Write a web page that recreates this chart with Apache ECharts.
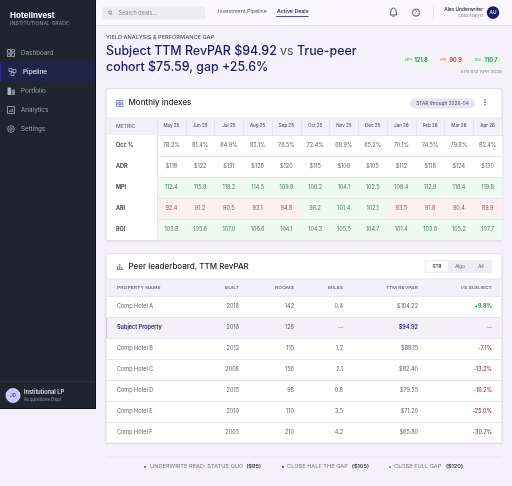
<!DOCTYPE html>
<html><head><meta charset="utf-8">
<style>html,body{margin:0;padding:0;background:#f4f1fa}#c{width:512px;height:486px}</style>
<script src="https://cdn.jsdelivr.net/npm/echarts@6/dist/echarts.min.js"></script>
</head><body><div id="c"></div>
<script>
const months = ['May 25','Jun 25','Jul 25','Aug 25','Sep 25','Oct 25','Nov 25','Dec 25','Jan 26','Feb 26','Mar 26','Apr 26'];
const metrics = ['Occ %','ADR','MPI','ARI','RGI'];
const occ = [78.2,81.4,84.9,82.1,76.5,72.4,68.9,65.2,70.1,74.5,79.8,82.4];
const adr = [118,122,131,128,120,115,109,105,112,118,124,130];
const mpi = [112.4,115.8,118.2,114.5,109.8,106.2,104.1,102.5,108.4,112.9,116.4,119.8];
const ari = [92.4,91.2,90.5,93.1,94.8,98.2,101.4,102.1,93.5,91.8,90.4,89.9];
const rgi = [103.8,105.6,107.0,106.6,104.1,104.3,105.5,104.7,101.4,103.6,105.2,107.7];
const peerNames = ['Comp Hotel A','Subject Property','Comp Hotel B','Comp Hotel C','Comp Hotel D','Comp Hotel E','Comp Hotel F'];
const peerBuilt = [2018,2016,2012,2008,2015,2010,2005];
const peerRooms = [142,128,115,156,98,110,210];
const peerMiles = ['0.4','--','1.2','2.1','0.8','3.5','4.2'];
const peerRevpar = [104.22,94.92,88.15,82.40,79.55,71.20,65.80];
const peerVs = ['+9.8%','--','-7.1%','-13.2%','-16.2%','-25.0%','-30.7%'];
const peerHeads = ['PROPERTY NAME','BUILT','ROOMS','MILES','TTM REVPAR','VS SUBJECT'];
const navItems = ['Dashboard','Pipeline','Portfolio','Analytics','Settings'];

const F = 'Inter, "Noto Sans", sans-serif';
const NAVY = '#1c1c6b';
const LINE = '#e4e1eb';
const colRight = [117,239,294,343,418,492];

function T(x,y,text,size,fill,o){o=o||{};return {type:'text',x:x,y:y,scaleX:o.sx||1,silent:true,z:o.z||0,style:{text:text,fontFamily:F,fontSize:size,fill:fill,fontWeight:o.w||400,align:o.a||'left',verticalAlign:'middle',rich:o.rich}};}
function R(x,y,w,h,fill,o){o=o||{};return {type:'rect',silent:true,z:o.z||0,shape:{x:x,y:y,width:w,height:h,r:o.r||0},style:{fill:fill,stroke:o.s||null,lineWidth:o.lw||0,shadowBlur:o.sb||0,shadowColor:o.sc||'transparent',shadowOffsetY:o.sy||0}};}
function B(x,y,w,h,st,o){o=o||{};return {type:'rect',silent:true,shape:{x:x,y:y,width:w,height:h,r:o.r||0},style:{fill:'transparent',stroke:st,lineWidth:o.lw||0.8}};}
function C(cx,cy,r,fill,st){return {type:'circle',silent:true,shape:{cx:cx,cy:cy,r:r},style:{fill:fill,stroke:st||null,lineWidth:st?0.8:0}};}
function L(x1,y1,x2,y2,st,lw){return {type:'line',silent:true,shape:{x1:x1,y1:y1,x2:x2,y2:y2},style:{stroke:st,lineWidth:lw||1}};}

const g = [];
// sidebar
g.push(R(0,0,96,409,'#0c0f14'));
g.push(R(0,0,95,408,'#1e2530'));
g.push(R(0,62,95,19.5,'#1e2449'));
g.push(R(0,62,1.2,19.5,'#2a2a8c'));
g.push(T(10,15.5,'HotelInvest',8,'#ffffff',{w:700}));
g.push(T(10,24,'INSTITUTIONAL GRADE',4.5,'#8f97a6',{sx:1.16}));
const navY=[53,72,91,110,129];
navItems.forEach((n,i)=>{
  const act=i===1, x=act?23:21, col=act?'#e3e5f2':'#98a0ae';
  g.push(T(x,navY[i],n,6.3,col,{w:act?500:400}));
  const ix=act?9:7.5, iy=navY[i]-3.5, c='#aab0bc';
  if(i===0){g.push(B(ix,iy,3,3.5,c),B(ix+4,iy,3,2.5,c),B(ix,iy+4.5,3,2.5,c),B(ix+4,iy+3.5,3,3.5,c));}
  if(i===1){g.push(B(ix,iy,3,3,c),B(ix+4,iy+1,3,3,c),B(ix+2,iy+4,3,3,c));}
  if(i===2){g.push(R(ix,iy,3.5,7.5,c),R(ix+4,iy+2,3.5,5.5,'#7f8794'));}
  if(i===3){g.push(B(ix,iy,7,7,c),L(ix+2,iy+5.5,ix+2,iy+4,c,.8),L(ix+3.5,iy+5.5,ix+3.5,iy+3,c,.8),L(ix+5,iy+5.5,ix+5,iy+2,c,.8));}
  if(i===4){g.push(C(ix+3.5,iy+3.5,3.3,'transparent',c),C(ix+3.5,iy+3.5,1.3,'transparent',c));}
});
g.push(L(0,381.5,95,381.5,'#2c3441',.8));
g.push(C(13,395.5,7,'#c9c4fb','#f0eefc'));
g.push(T(13,395.5,'JD',4.2,'#3a3a8c',{a:'center',w:600}));
g.push(T(24,392.3,'Institutional LP',5.7,'#f2f3f6',{w:500}));
g.push(T(24,399.5,'Acquisitions Dept',4.5,'#8f97a6'));
// top bar
g.push(R(96,0,416,25.5,'#faf8fe'));
g.push(L(96,25.5,512,25.5,'#dedbe6',.9));
g.push(R(102,6.5,103,13,'#eeecf3',{r:2}));
g.push(C(110,12.4,1.5,'transparent','#777'));
g.push(L(111,13.6,112.2,14.8,'#777',.7));
g.push(T(118.5,13,'Search deals...',5.5,'#8b8b96'));
g.push(T(218,11.5,'Investment Pipeline',5.3,'#5e5e68'));
g.push(T(277,11.5,'Active Deals',5.3,NAVY,{w:500}));
g.push(L(276,16.5,308.5,16.5,'#3a3a8c',.9));
g.push({type:'polyline',silent:true,shape:{points:[[390,15],[390.8,13],[391,10],[392,8.5],[393.5,8],[395,8.5],[396,10],[396.2,13],[397,15],[390,15]]},style:{fill:'transparent',stroke:'#333',lineWidth:.8}});
g.push(L(392.6,16.3,394.4,16.3,'#333',.8));
g.push(C(416,12.6,3.6,'transparent','#333'));
g.push(T(416,12.7,'?',4.6,'#333',{a:'center'}));
g.push(L(433.5,6,433.5,19,'#e0dde7',.8));
g.push(T(483,9.3,'Alex Underwriter',4.8,'#2a2a32',{a:'right',w:500}));
g.push(T(483,15.8,'Lead Analyst',4,'#85858f',{a:'right'}));
g.push(C(493,12.6,6.3,NAVY));
g.push(T(493,12.8,'AU',4.8,'#e8e8ff',{a:'center',w:500}));
// heading
g.push(T(106,38,'YIELD ANALYSIS & PERFORMANCE GAP',4.5,'#55555f',{w:500,sx:1.25}));
const titleRich={n:{fontFamily:F,fontSize:12.4,fill:NAVY,fontWeight:500},g:{fontFamily:F,fontSize:12.4,fill:'#4a4a5a',fontWeight:400}};
g.push({type:'text',silent:true,x:106,y:51,style:{text:'{n|Subject TTM RevPAR $94.92} {g|vs} {n|True-peer}',rich:titleRich,verticalAlign:'middle'}});
g.push({type:'text',silent:true,x:106,y:67,style:{text:'{n|cohort $75.59, gap +25.6%}',rich:titleRich,verticalAlign:'middle'}});
// KPI pills
[[400,33,'#ecf9ef','MPI','121.8','#1d7a3c',406],[436,31,'#fdf0f0','ARI','90.9','#a32a35',441],[470,32,'#ecf9ef','RGI','110.7','#1d7a3c',476]].forEach(p=>{
  g.push(R(p[0],54,p[1],11,p[2],{r:5.5}));
  g.push(T(p[6]-1,60,p[3],3.7,'#85858f'));
  g.push(T(p[6]+8.5,60,p[4],5.5,p[5],{w:600}));
});
g.push(T(502,72,'STR R12 APR 2026',4.1,'#85858f',{a:'right',sx:1.15}));
// cards
g.push(R(106,88.5,396,152,'#ffffff',{r:1.5,s:'#dfdce8',lw:.8,sb:2,sc:'rgba(30,20,70,.08)',sy:.5}));
g.push(R(106.5,118,395,17,'#f3f0f8'));
g.push(L(106,118,502,118,LINE,.8));
g.push(B(116.5,100.5,2.8,2.6,'#5b5ba8',{lw:.7}),B(120.2,100.5,2.8,2.6,'#5b5ba8',{lw:.7}),B(116.5,104,2.8,2.6,'#5b5ba8',{lw:.7}),B(120.2,104,2.8,2.6,'#5b5ba8',{lw:.7}));
g.push(T(128.5,103,'Monthly indexes',8,'#22222c',{w:500}));
g.push(R(410,98.5,65,10,'#e7e5f0',{r:5}));
g.push(T(442.5,103.7,'STAR through 2026-04',4.8,'#4c4c72',{a:'center'}));
g.push(C(485,100,.7,'#222'),C(485,102.3,.7,'#222'),C(485,104.6,.7,'#222'));
g.push(T(116,126.5,'METRIC',4.2,'#66666f',{w:500,sx:1.2}));

g.push(R(106,253.5,396,189.5,'#ffffff',{r:1.5,s:'#dfdce8',lw:.8,sb:2,sc:'rgba(30,20,70,.08)',sy:.5}));
g.push(R(106.5,279,395,17,'#f3f0f8'));
g.push(L(106,279,502,279,LINE,.8));
g.push(L(116.5,269.5,123,269.5,'#5b5ba8',.7),L(117.5,269,117.5,266.5,'#5b5ba8',1),L(119.8,269,119.8,264,'#5b5ba8',1),L(122,269,122,267,'#5b5ba8',1));
g.push(T(128.5,266.8,'Peer leaderboard, TTM RevPAR',8,'#22222c',{w:500}));
g.push(R(424.5,260,67.5,13,'#eeecf3',{r:2}));
g.push(R(426,261.5,22,10,'#ffffff',{r:1.5}));
g.push(T(437,266.6,'STR',4.5,'#33333c',{a:'center',w:600}));
g.push(T(460,266.6,'Algo',4.5,'#55555f',{a:'center'}));
g.push(T(481,266.6,'All',4.5,'#55555f',{a:'center'}));
peerHeads.forEach((h,i)=>g.push(T(colRight[i],287.7,h,4.1,'#66666f',{a:i?'right':'left',w:500,sx:1.24})));
// footer
g.push(L(106,457,502,457,'#e9e6ef',1.2));
const foot=[[145,'#44444f','UNDERWRITE READ: STATUS QUO','($95)',150,261],[283,NAVY,'CLOSE HALF THE GAP','($105)',287,369],[390,'#1a9a3a','CLOSE FULL GAP','($120)',394,463]];
foot.forEach(f=>{
  g.push(C(f[0],467,.9,f[1]));
  g.push(T(f[4],467,f[2],4.8,'#77777f',{sx:1.18}));
  g.push(T(f[5],467,f[3],4.8,'#33333c',{a:'right',w:600,sx:1.15}));
});

// monthly heatmap cells
const rows=[occ,adr,mpi,ari,rgi];
const GREEN='#eefaf1',RED='#fdf0f0',GT='#4d7d5e',RT='#a04a52';
const cells=[];
rows.forEach((r,j)=>r.forEach((v,i)=>{
  let bg='#ffffff',tc='#5e5e68';
  if(j===2||j===4){bg=GREEN;tc=GT;}
  if(j===3){const ok=v>=95;bg=ok?GREEN:RED;tc=ok?GT:RT;}
  cells.push({value:[i,j,v],itemStyle:{color:bg},label:{color:tc}});
}));
function fmt(j,v){return j===0?v.toFixed(1)+'%':j===1?'$'+v:v.toFixed(1);}

const chart=echarts.init(document.getElementById('c'),null,{renderer:'canvas'});
chart.setOption({
  animation:false,
  backgroundColor:'#f4f1fa',
  textStyle:{fontFamily:F},
  graphic:{elements:g},
  grid:[
    {left:157,top:135,width:345,height:105,containLabel:false},
    {left:106,top:296,width:396,height:147,containLabel:false}
  ],
  xAxis:[
    {type:'category',gridIndex:0,data:months,position:'top',z:3,
     axisLine:{show:false},axisTick:{show:true,length:17,lineStyle:{color:LINE,width:.8}},
     axisLabel:{fontSize:4.5,color:'#55555f',margin:6.5,fontWeight:500,fontFamily:F,interval:0},splitLine:{show:false}},
    {type:'value',gridIndex:1,min:106,max:502,show:false}
  ],
  yAxis:[
    {type:'category',gridIndex:0,data:metrics,inverse:true,z:3,
     axisLine:{show:true,lineStyle:{color:LINE,width:.8}},axisTick:{show:false},
     axisLabel:{fontSize:5.5,color:'#2a2a32',fontWeight:600,fontFamily:F,align:'left',margin:41},
     splitLine:{show:true,lineStyle:{color:LINE,width:.8}},splitArea:{show:false}},
    {type:'category',gridIndex:1,data:peerNames,inverse:true,z:3,
     axisLine:{show:false},axisTick:{show:false},axisLabel:{show:false},
     splitLine:{show:true,lineStyle:{color:LINE,width:.8}}}
  ],
  series:[
    {type:'heatmap',xAxisIndex:0,yAxisIndex:0,data:cells,z:2,
     label:{show:true,fontSize:5.5,fontFamily:F,formatter:p=>fmt(p.value[1],p.value[2])},
     emphasis:{disabled:true}},
    {type:'custom',xAxisIndex:1,yAxisIndex:1,z:2,silent:true,
     data:peerNames.map((n,i)=>[i]),
     encode:{y:0},
     renderItem:function(params,api){
       const i=api.value(0),yc=api.coord([106,i])[1],h=api.size([0,1])[1];
       const sub=i===1,kids=[];
       if(sub){
         kids.push({type:'rect',shape:{x:106.5,y:yc-h/2,width:395,height:h},style:{fill:'#f3f0f8'}});
         kids.push({type:'rect',shape:{x:106,y:yc-h/2,width:1.2,height:h},style:{fill:'#c9c5d8'}});
       }
       const vals=[peerNames[i],String(peerBuilt[i]),String(peerRooms[i]),peerMiles[i],'$'+peerRevpar[i].toFixed(2),peerVs[i]];
       vals.forEach((t,c)=>{
         let col='#5e5e68',w=400;
         if(sub&&(c===0||c===4)){col=NAVY;w=600;}
         if(c===5){if(t[0]==='+'){col='#1d7a3c';w=600;}else if(t[0]==='-'&&t.length>2){col='#a32a35';w=500;}}
         kids.push({type:'text',x:api.coord([colRight[c],i])[0],y:yc,style:{text:t,fontFamily:F,fontSize:5.5,fill:col,fontWeight:w,align:c?'right':'left',verticalAlign:'middle'}});
       });
       return {type:'group',children:kids};
     }}
  ]
});
</script></body></html>
